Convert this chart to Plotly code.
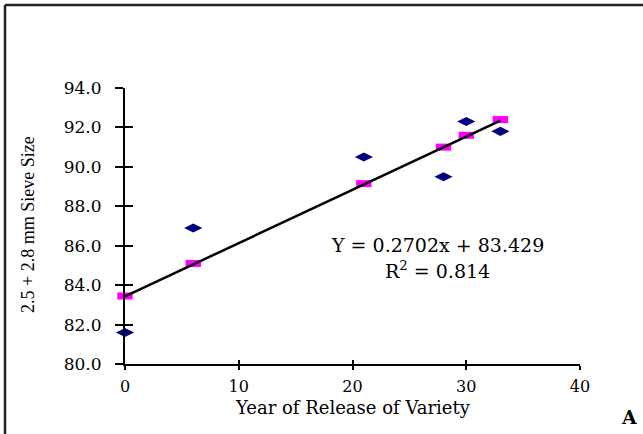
import plotly.graph_objects as go

# Observed data (blue diamonds)
years = [0, 6, 21, 28, 30, 33]
sieve = [81.6, 86.9, 90.5, 89.5, 92.3, 91.8]
# Predicted values on regression line (pink squares)
pred = [83.45, 85.1, 89.15, 91.0, 91.6, 92.4]
# Trend line end points
trend_x = [0, 33]
trend_y = [83.43, 92.35]

x_ticks = [0, 10, 20, 30, 40]
y_ticks = [80, 82, 84, 86, 88, 90, 92, 94]
y_tick_text = [f"{v:.1f}" for v in y_ticks]

eq_text = "Y = 0.2702x + 83.429"
r2_text = "R<sup>2</sup> = 0.814"

FONT = "DejaVu Serif"
fig = go.Figure()

fig.add_trace(go.Scatter(x=years, y=pred, mode="markers", cliponaxis=False,
                         marker=dict(symbol="line-ew", size=11,
                                     line=dict(color="#ff00ff", width=7)),
                         showlegend=False))
fig.add_trace(go.Scatter(x=years, y=sieve, mode="markers", cliponaxis=False,
                         marker=dict(symbol="diamond-wide", size=13, color="#000080",
                                     line=dict(width=0)),
                         showlegend=False))
# trend line drawn on the overlay axes (same ranges) so they carry the inner tick halves
fig.add_trace(go.Scatter(x=trend_x, y=trend_y, mode="lines", xaxis="x2", yaxis="y2",
                         line=dict(color="black", width=2.5), showlegend=False))

fig.update_layout(
    width=643, height=434,
    margin=dict(l=125, r=63, t=88, b=70),
    paper_bgcolor="white", plot_bgcolor="white",
    font=dict(family=FONT, size=17, color="black"),
    xaxis=dict(range=[0, 40], tickvals=x_ticks, ticks="outside", ticklen=4,
               tickwidth=1.5, tickcolor="black", showline=True, linewidth=2,
               linecolor="black", showgrid=False, zeroline=False,
               tickfont=dict(family=FONT, size=16), ticklabelstandoff=3),
    yaxis=dict(range=[80, 94], tickvals=y_ticks, ticktext=y_tick_text,
               ticks="outside", ticklen=8, tickwidth=1.5, tickcolor="black",
               showline=True, linewidth=2, linecolor="black", showgrid=False,
               zeroline=False, tickfont=dict(family=FONT, size=17),
               ticklabelstandoff=10),
    xaxis2=dict(range=[0, 40], tickvals=x_ticks, ticks="inside", ticklen=4,
                tickwidth=1.5, tickcolor="black", showticklabels=False,
                showline=False, showgrid=False, zeroline=False,
                overlaying="x", anchor="y", side="bottom"),
    yaxis2=dict(range=[80, 94], tickvals=y_ticks, ticks="inside", ticklen=8,
                tickwidth=1.5, tickcolor="black", showticklabels=False,
                showline=False, showgrid=False, zeroline=False,
                overlaying="y", anchor="x", side="left"),
)

fig.add_annotation(text=eq_text, x=27.5, y=86.04, xref="x", yref="y",
                   showarrow=False, font=dict(family=FONT, size=19),
                   xanchor="center", yanchor="middle")
fig.add_annotation(text=r2_text, x=27.5, y=84.77, xref="x", yref="y",
                   showarrow=False, font=dict(family=FONT, size=19),
                   xanchor="center", yanchor="middle")
fig.add_annotation(text="Year of Release of Variety", x=0.5, y=-0.158,
                   xref="paper", yref="paper", showarrow=False,
                   font=dict(family=FONT, size=18), xanchor="center", yanchor="middle")
fig.add_annotation(text="2.5 + 2.8 mm Sieve Size", x=-0.213, y=0.504,
                   xref="paper", yref="paper", showarrow=False, textangle=-90,
                   font=dict(family="Liberation Serif", size=18),
                   xanchor="center", yanchor="middle")
fig.add_annotation(text="<b>A</b>", x=1.108, y=-0.192, xref="paper", yref="paper",
                   showarrow=False, font=dict(family=FONT, size=19),
                   xanchor="center", yanchor="middle")

# outer frame (top and left edges visible)
fig.add_shape(type="line", xref="paper", yref="paper", x0=-0.2637, x1=1.16,
              y0=1.3007, y1=1.3007, line=dict(color="#222222", width=2.5))
fig.add_shape(type="line", xref="paper", yref="paper", x0=-0.2637, x1=-0.2637,
              y0=-0.3, y1=1.3007, line=dict(color="#222222", width=2.5))

fig.write_html("out.html", config={"displayModeBar": False},
               post_script="document.body.style.margin='0';document.body.style.overflow='hidden';")
